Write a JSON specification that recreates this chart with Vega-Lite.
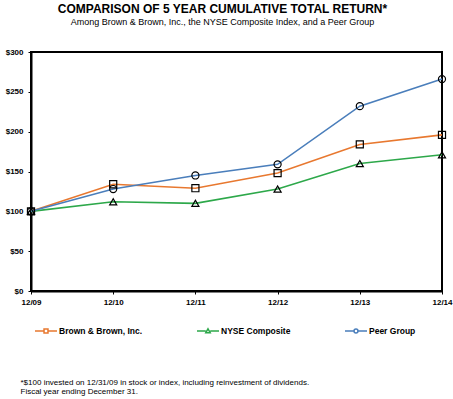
{
  "$schema": "https://vega.github.io/schema/vega-lite/v6.json",
  "autosize": {"type": "none"},
  "width": 411,
  "height": 239,
  "padding": {"left": 31, "top": 52, "right": 11, "bottom": 108},
  "background": "white",
  "title": {
    "text": "COMPARISON OF 5 YEAR CUMULATIVE TOTAL RETURN*",
    "subtitle": "Among Brown & Brown, Inc., the NYSE Composite Index, and a Peer Group",
    "anchor": "middle",
    "dx": -14,
    "offset": 20,
    "font": "Liberation Sans",
    "fontSize": 12,
    "fontWeight": "bold",
    "color": "black",
    "subtitleFont": "Liberation Sans",
    "subtitleFontSize": 9,
    "subtitleColor": "black",
    "subtitlePadding": 2
  },
  "config": {
    "view": {"stroke": "black", "strokeWidth": 2},
    "axis": {"grid": false, "domainColor": "black", "domainWidth": 2, "tickColor": "black", "tickSize": 3, "labelFont": "Liberation Sans", "labelFontWeight": "bold", "labelFontSize": 8, "labelColor": "black"}
  },
  "data": {
    "values": [
      {"year": "12/09", "series": "Brown & Brown, Inc.", "value": 100},
      {"year": "12/10", "series": "Brown & Brown, Inc.", "value": 134},
      {"year": "12/11", "series": "Brown & Brown, Inc.", "value": 129},
      {"year": "12/12", "series": "Brown & Brown, Inc.", "value": 148},
      {"year": "12/13", "series": "Brown & Brown, Inc.", "value": 184},
      {"year": "12/14", "series": "Brown & Brown, Inc.", "value": 196},
      {"year": "12/09", "series": "NYSE Composite", "value": 100},
      {"year": "12/10", "series": "NYSE Composite", "value": 112},
      {"year": "12/11", "series": "NYSE Composite", "value": 110},
      {"year": "12/12", "series": "NYSE Composite", "value": 128},
      {"year": "12/13", "series": "NYSE Composite", "value": 160},
      {"year": "12/14", "series": "NYSE Composite", "value": 171},
      {"year": "12/09", "series": "Peer Group", "value": 100},
      {"year": "12/10", "series": "Peer Group", "value": 128},
      {"year": "12/11", "series": "Peer Group", "value": 145},
      {"year": "12/12", "series": "Peer Group", "value": 159},
      {"year": "12/13", "series": "Peer Group", "value": 232},
      {"year": "12/14", "series": "Peer Group", "value": 266}
    ]
  },
  "encoding": {
    "x": {
      "field": "year", "type": "ordinal",
      "scale": {"type": "point", "padding": 0},
      "axis": {
        "labelAngle": 0, "labelPadding": 4,
        "title": ["*$100 invested  on 12/31/09 in stock or index,  including reinvestment  of dividends.", "Fiscal year ending December 31."],
        "titleFont": "Liberation Sans", "titleFontSize": 8, "titleFontWeight": "normal", "titleColor": "black",
        "titleAnchor": "start", "titleAlign": "left", "titleBaseline": "alphabetic",
        "titleX": -11, "titleY": 93, "titleLineHeight": 9
      }
    },
    "y": {
      "field": "value", "type": "quantitative",
      "scale": {"domain": [0, 300]},
      "axis": {"values": [0, 50, 100, 150, 200, 250, 300], "labelExpr": "'$' + datum.value", "labelPadding": 5, "title": null}
    }
  },
  "layer": [
    {
      "mark": {"type": "line", "strokeWidth": 1.6},
      "encoding": {
        "color": {"field": "series", "type": "nominal",
          "scale": {"domain": ["Brown & Brown, Inc.", "NYSE Composite", "Peer Group"], "range": ["#E8782F", "#2DA84A", "#4A7EBB"]},
          "legend": null}
      }
    },
    {
      "mark": {"type": "point", "filled": false, "stroke": "black", "strokeWidth": 1.2, "size": 50, "opacity": 1},
      "encoding": {
        "shape": {"field": "series", "type": "nominal",
          "scale": {"domain": ["Brown & Brown, Inc.", "NYSE Composite", "Peer Group"], "range": ["square", "triangle-up", "circle"]},
          "legend": null}
      }
    },
    {
      "transform": [{"filter": "false"}],
      "mark": {"type": "point", "filled": false, "strokeWidth": 1.5, "opacity": 1},
      "encoding": {
        "color": {"field": "series", "type": "nominal",
          "scale": {"domain": ["Brown & Brown, Inc.", "NYSE Composite", "Peer Group"], "range": ["#E8782F", "#2DA84A", "#4A7EBB"]},
          "legend": {
            "orient": "none", "legendX": 3, "legendY": 267, "direction": "horizontal", "columns": 3,
            "gridAlign": "none", "columnPadding": 51, "title": null,
            "symbolSize": 484, "symbolStrokeWidth": 1.5, "symbolFillColor": "transparent",
            "labelFont": "Liberation Sans", "labelFontSize": 8.5, "labelFontWeight": "bold", "labelColor": "black", "labelOffset": 1
          }},
        "shape": {"field": "series", "type": "nominal",
          "scale": {"domain": ["Brown & Brown, Inc.", "NYSE Composite", "Peer Group"],
            "range": ["M-1,0H-0.18M0.18,0H1M-0.18,-0.18H0.18V0.18H-0.18Z", "M-1,0H-0.2M0.2,0H1M0,-0.2L0.2,0.15H-0.2Z", "M-1,0H-0.18M0.18,0H1M-0.18,0A0.18,0.18 0 1,0 0.18,0A0.18,0.18 0 1,0 -0.18,0"]},
          "legend": {"orient": "none", "legendX": 3, "legendY": 267, "direction": "horizontal", "columns": 3, "title": null}}
      }
    }
  ],
  "resolve": {"scale": {"color": "independent", "shape": "independent"}}
}
